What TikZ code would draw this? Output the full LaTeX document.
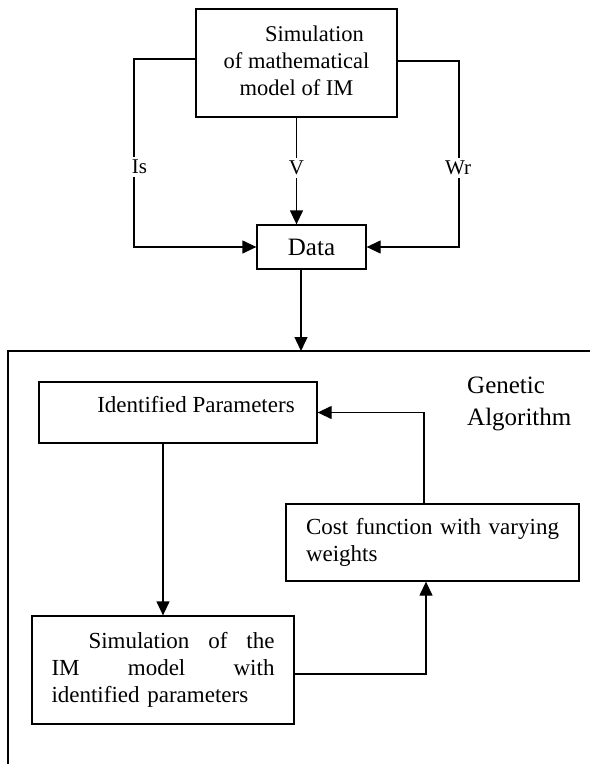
\documentclass[tikz,border=0pt]{standalone}
\usepackage{fontspec}
\setmainfont{Liberation Serif}
\usetikzlibrary{arrows.meta}
\begin{document}
\begin{tikzpicture}[x=1pt,y=-1pt,
  box/.style={draw=black, line width=1.3pt, inner sep=0pt},
  conn/.style={draw=black, line width=1.3pt},
  arr/.style={conn, -{Triangle[length=14pt,width=13pt]}},
  lbl/.style={fill=white, inner sep=3pt, font=\fontsize{21}{24}\selectfont},
  txt/.style={inner sep=0pt, font=\fontsize{23}{27}\selectfont}]
\useasboundingbox (0,0) rectangle (590,764);
% boxes
\node[box, minimum width=201pt, minimum height=108pt] (top) at (296.5,63) {};
\node[txt, align=center, font=\fontsize{22.5}{27}\selectfont] (toptxt) at (296.5,61) {\hspace*{36pt}Simulation\\of mathematical\\model of IM};
\node[box, minimum width=109pt, minimum height=44pt, font=\fontsize{25}{30}\selectfont] (data) at (311.5,247) {Data};
\node[box, minimum width=278pt, minimum height=61pt] (ident) at (178,412.5) {};
\node[txt] (identtxt) at (196,405) {Identified Parameters};
\node[txt, align=left, anchor=west, font=\fontsize{25}{32}\selectfont] (ga) at (467,404) {Genetic\\Algorithm};
\node[box, txt, minimum width=293pt, minimum height=77pt, align=left, text width=253pt] (cost) at (432.5,542.5) {\leavevmode\hbox to 253pt{Cost\hfill function\hfill with\hfill varying}\\weights};
\node[box, txt, minimum width=262pt, minimum height=108pt, align=left, text width=223pt] (sim2) at (163,670) {\leavevmode\hbox to 223pt{\hspace*{37pt}Simulation\hfill of\hfill the}\\\leavevmode\hbox to 223pt{IM\hfill model\hfill with}\\identified parameters};
% frame
\coordinate (ftl) at (8,351);
\coordinate (ftr) at (590,351);
\coordinate (fbl) at (8,764);
\coordinate (fin) at (301,351);
\draw[conn] (ftr) -- (ftl) -- (fbl);
% connectors
\coordinate (isc) at (134,59);
\coordinate (wrc) at (459,61);
\coordinate (sc) at (426,674);
\coordinate (ci) at (424,412.5);
\draw[arr] (top.west |- isc) -- (isc) |- (data.west);
\draw[arr] (top.east |- wrc) -- (wrc) |- (data.east);
\draw[arr] (top.south) -- (data.north -| top.south);
\draw[arr] (data.south -| fin) -- (fin);
\draw[arr] (ident.south -| sim2.north) -- (sim2.north);
\draw[arr] (sim2.east |- sc) -- (sc) -- (sc |- cost.south);
\draw[arr] (ci |- cost.north) -- (ci) -- (ident.east);
% labels
\node[lbl] (is) at (139.5,167) {Is};
\node[lbl] (v) at (296.5,168) {V};
\node[lbl] (wr) at (458,168) {Wr};
\end{tikzpicture}
\end{document}
